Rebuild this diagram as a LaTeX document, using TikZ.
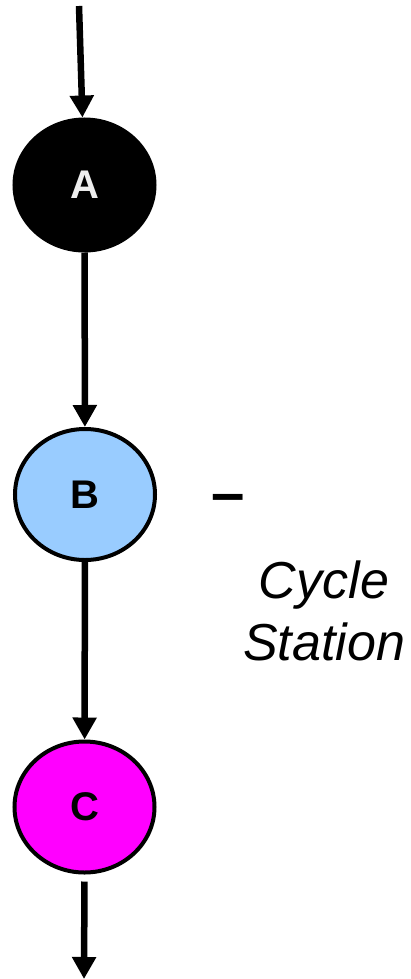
\documentclass[tikz,border=0pt]{standalone}
\usepackage{fontspec}
\setmainfont{Liberation Sans}
\usetikzlibrary{arrows.meta,shapes.geometric}
\definecolor{stationblue}{HTML}{99CCFF}
\definecolor{stationpink}{HTML}{FF00FF}
\definecolor{labelwhite}{HTML}{EEEEEE}
\begin{document}
\begin{tikzpicture}[x=1pt,y=-1pt,
  station/.style={ellipse, draw=black, line width=4pt,
    minimum width=140pt, minimum height=131pt, inner sep=0pt,
    font=\fontsize{40}{40}\selectfont\bfseries},
  flow/.style={line width=6.5pt, -{Triangle[width=23pt,length=22pt]}},
  note/.style={font=\fontsize{52}{62}\selectfont\itshape, align=center}]
  \useasboundingbox (0,0) rectangle (411,979);

  % stations
  \node[station, fill=black, text=labelwhite] (A) at (84.5,185) {A};
  \node[station, fill=stationblue] (B) at (85,494.5) {B};
  \node[station, fill=stationpink] (C) at (84.5,807) {C};

  % annotation beside B
  \node[font=\fontsize{60}{60}\selectfont\bfseries, inner sep=0pt] (dash) at (228,504) {–};
  \node[note] (label) at (324,610.5) {Cycle\\Station};

  % flow between stations
  \coordinate (in) at (79,6);
  \coordinate (out) at (84,979);
  \draw[flow] (in) -- (A);
  \draw[flow] (A) -- (B);
  \draw[flow] (B) -- (C);
  \draw[flow, shorten <=7pt] (C.south) -- (out);
\end{tikzpicture}
\end{document}
